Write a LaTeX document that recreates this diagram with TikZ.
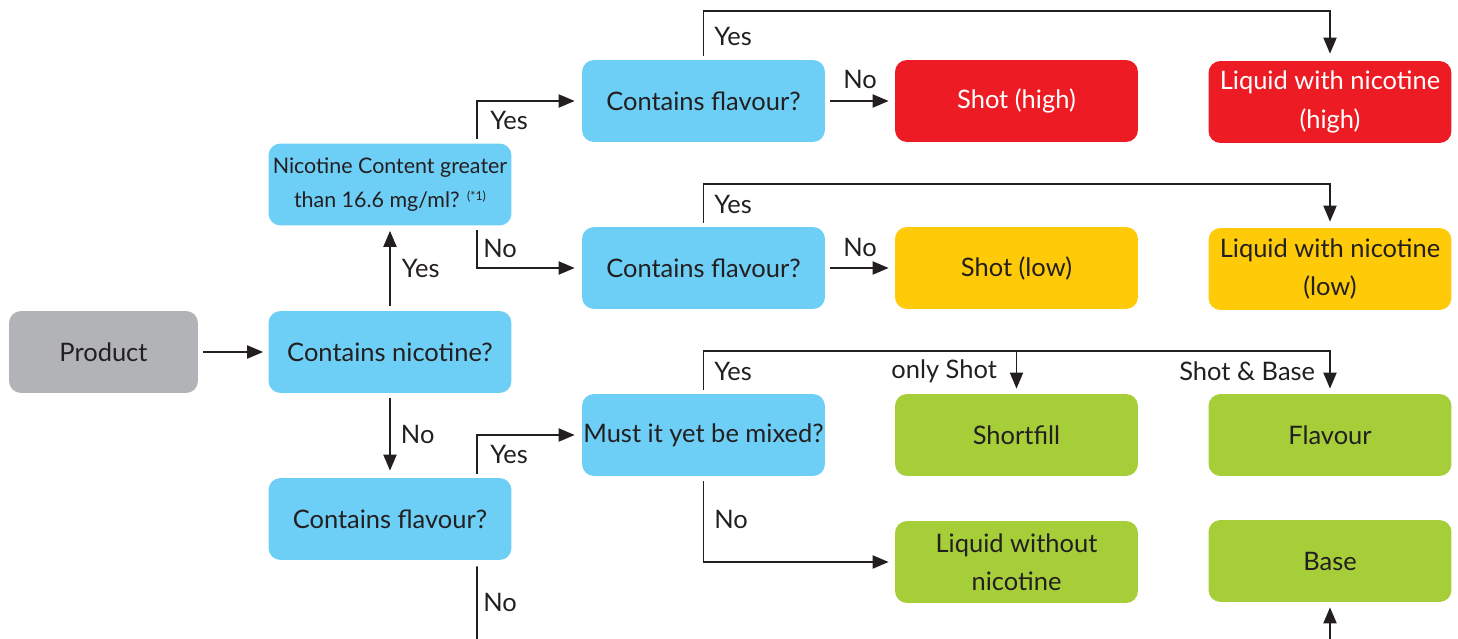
\documentclass[tikz,border=0pt]{standalone}
\usepackage{fontspec}
\setmainfont{Lato}
\usetikzlibrary{arrows.meta}

\definecolor{askblue}{HTML}{6DCFF6}
\definecolor{highred}{HTML}{ED1C24}
\definecolor{lowyellow}{HTML}{FFCB08}
\definecolor{freegreen}{HTML}{A6CE39}
\definecolor{startgray}{HTML}{B1B3B6}
\definecolor{inkgray}{HTML}{231F20}

\tikzset{
  box/.style={rounded corners=0.24cm, minimum width=4.86cm, minimum height=1.64cm,
    inner sep=0pt, align=center, text=inkgray, font=\fontsize{14.5}{21.8}\selectfont},
  question/.style={box, fill=askblue},
  wire/.style={line width=1.1pt, draw=inkgray},
  link/.style={wire, -{Triangle[length=3.2mm, width=2.6mm]}},
  lbl/.style={anchor=west, inner sep=0pt, text=inkgray, font=\fontsize{14.5}{16}\selectfont},
}

\begin{document}
\begin{tikzpicture}[x=0.02cm, y=-0.02cm]
        \useasboundingbox (0,0) rectangle (1458,639);

        % les questions
        \node[box, fill=startgray, minimum width=3.78cm] (product) at (103.5,352) {Product};
        \node[question] (nicotine) at (390,352) {Contains nicotine?};
        \node[question, font=\fontsize{12.2}{19.2}\selectfont] (content) at (390,184.5)
          {Nicotine Content greater\\than 16.6 mg/ml? {\fontsize{7}{7}\selectfont\raisebox{1.1ex}{(*1)}}};
        \node[question] (flavourNo) at (390,519) {Contains flavour?};
        \node[question] (flavourHigh) at (703.5,101) {Contains flavour?};
        \node[question] (flavourLow) at (703.5,268) {Contains flavour?};
        \node[question] (mixed) at (703.5,435) {Must it yet be mixed?};

        % les produits
        \node[box, fill=highred, text=white] (shotHigh) at (1016.5,101) {Shot (high)};
        \node[box, fill=highred, text=white] (liquidHigh) at (1330,102) {Liquid with nicotine\\(high)};
        \node[box, fill=lowyellow] (shotLow) at (1016.5,268) {Shot (low)};
        \node[box, fill=lowyellow] (liquidLow) at (1330,269) {Liquid with nicotine\\(low)};
        \node[box, fill=freegreen] (shortfill) at (1016.5,435) {Shortfill};
        \node[box, fill=freegreen] (flavour) at (1330,435) {Flavour};
        \node[box, fill=freegreen] (liquidFree) at (1016.5,562) {Liquid without\\nicotine};
        \node[box, fill=freegreen] (base) at (1330,561) {Base};

        % points de sortie du dessin
        \coordinate (exitDown) at (477,645);
        \coordinate (baseIn) at (1330,645);

        % liens a gauche
        \draw[link] ([xshift=0.1cm]product.east) -- ([xshift=-0.1cm]nicotine.west);
        \draw[link] ([yshift=0.1cm]nicotine.north) -- node[lbl, pos=0.5, xshift=0.22cm] (yesNic) {Yes} ([yshift=-0.1cm]content.south);
        \draw[link] ([yshift=-0.1cm]nicotine.south) -- node[lbl, pos=0.5, xshift=0.2cm] (noNic) {No} ([yshift=0.14cm]flavourNo.north);

        \draw[link] ([xshift=1.74cm, yshift=0.08cm]content.north) |- ([xshift=-0.14cm]flavourHigh.west);
        \node[lbl] (yesContent) at (490,120) {Yes};
        \draw[link] ([xshift=1.74cm, yshift=-0.08cm]content.south) |- ([xshift=-0.14cm]flavourLow.west);
        \node[lbl] (noContent) at (483,248) {No};

        \draw[link] ([xshift=1.74cm, yshift=0.08cm]flavourNo.north) |- ([xshift=-0.14cm]mixed.west);
        \node[lbl] (yesFlavour) at (490,454) {Yes};
        \draw[wire] ([xshift=1.74cm, yshift=-0.12cm]flavourNo.south) -- (exitDown);
        \node[lbl] (noFlavour) at (483,602) {No};

        % liens avec nicotine
        \draw[link] ([xshift=0.1cm]flavourHigh.east) -- ([xshift=-0.12cm]shotHigh.west);
        \node[lbl] (noHigh) at (843,79) {No};
        \draw[link] ([yshift=0.08cm]flavourHigh.north) -- ++(0,0.9cm) -| ([yshift=0.14cm]liquidHigh.north);
        \node[lbl] (yesHigh) at (714,36) {Yes};

        \draw[link] ([xshift=0.1cm]flavourLow.east) -- ([xshift=-0.12cm]shotLow.west);
        \node[lbl] (noLow) at (843,247) {No};
        \draw[link] ([yshift=0.08cm]flavourLow.north) -- ++(0,0.78cm) -| ([yshift=0.12cm]liquidLow.north);
        \node[lbl] (yesLow) at (714,204) {Yes};

        % liens sans nicotine
        \draw[link] ([yshift=0.08cm]mixed.north) -- ++(0,0.78cm) coordinate (mixTop) -| ([yshift=0.1cm]flavour.north);
        \draw[link] (mixTop -| shortfill.north) -- ([yshift=0.1cm]shortfill.north);
        \node[lbl] (yesMixed) at (714,371) {Yes};
        \node[lbl] (onlyShot) at (891,371) {only Shot};
        \node[lbl] (shotBase) at (1179,371) {Shot \& Base};
        \draw[link] ([yshift=-0.1cm]mixed.south) |- ([xshift=-0.12cm]liquidFree.west);
        \node[lbl] (noMixed) at (714,519) {No};

        \draw[link] (baseIn) -- ([yshift=-0.1cm]base.south);
    \end{tikzpicture}
\end{document}
